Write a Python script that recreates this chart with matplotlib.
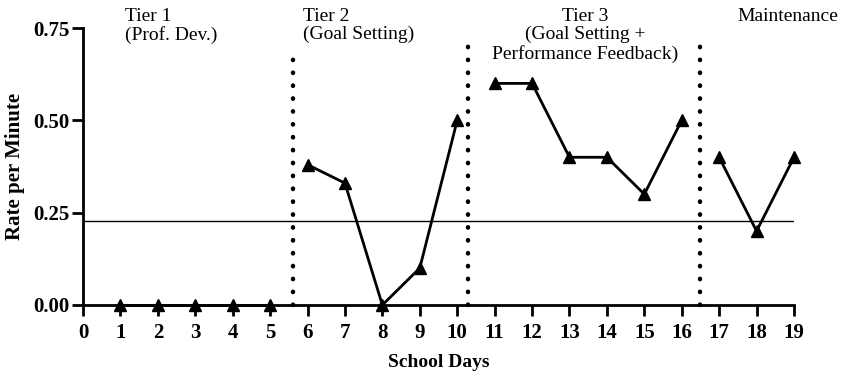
import numpy as np
import matplotlib.pyplot as plt

plt.rcParams['font.family'] = ['Liberation Serif', 'DejaVu Serif']

# phase data
days_t1 = [1, 2, 3, 4, 5]
rate_t1 = [0, 0, 0, 0, 0]
days_t2 = [6, 7, 8, 9, 10]
rate_t2 = [0.38, 0.33, 0.0, 0.10, 0.50]
days_t3 = [11, 12, 13, 14, 15, 16]
rate_t3 = [0.60, 0.60, 0.40, 0.40, 0.30, 0.50]
days_m = [17, 18, 19]
rate_m = [0.40, 0.20, 0.40]

phase_lines = [5.6, 10.3, 16.5]
phase_tops = [0.685, 0.71, 0.71]
goal_line = 0.228

fig = plt.figure(figsize=(8.41, 3.76), dpi=100)
ax = fig.add_axes([83/841, 71/376, 711/841, 277/376])

for d, r in [(days_t1, rate_t1), (days_t2, rate_t2), (days_t3, rate_t3), (days_m, rate_m)]:
    ax.plot(d, r, color='black', lw=2, marker='^', ms=8, clip_on=False, zorder=5)

ax.axhline(goal_line, color='black', lw=1)
for xv, top in zip(phase_lines, phase_tops):
    ax.plot([xv, xv], [0, top], color='black', lw=3.2, linestyle=(0, (0.1, 2.8)),
            dash_capstyle='round', clip_on=False)

ax.set_xlim(0, 19)
ax.set_ylim(0, 0.75)
ax.set_xticks(np.arange(0, 20))
ax.set_yticks([0, 0.25, 0.5, 0.75])
ax.set_yticklabels(['0.00', '0.25', '0.50', '0.75'])
for s in ['top', 'right']:
    ax.spines[s].set_visible(False)
for s in ['left', 'bottom']:
    ax.spines[s].set_linewidth(2)
ax.tick_params(width=2, length=8, labelsize=15)
ax.tick_params(axis='y', pad=1.5)
ax.tick_params(axis='x', pad=5)
for lab in ax.get_xticklabels() + ax.get_yticklabels():
    lab.set_fontweight('bold')

ax.set_xlabel('School Days', fontsize=14, fontweight='bold', labelpad=8)
ax.set_ylabel('Rate per Minute', fontsize=15, fontweight='bold', labelpad=6)

tk = dict(fontsize=14, va='top', transform=ax.transData, clip_on=False)
ax.text(1.12, 0.805, 'Tier 1\n(Prof. Dev.)', ha='left', linespacing=1.1, **tk)
ax.text(5.88, 0.805, 'Tier 2\n(Goal Setting)', ha='left', linespacing=1.1, **tk)
ax.text(13.42, 0.805, 'Tier 3\n(Goal Setting +\nPerformance Feedback)', ha='center',
        linespacing=1.1, **tk)
ax.text(17.49, 0.805, 'Maintenance', ha='left', **tk)

fig.savefig('out.png', dpi=100)
